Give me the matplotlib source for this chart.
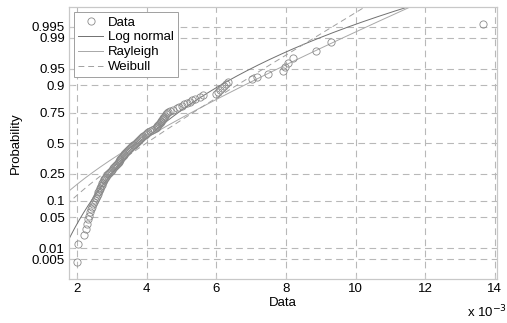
import numpy as np
import matplotlib
matplotlib.use("Agg")
import matplotlib.pyplot as plt
from statistics import NormalDist

plt.rcParams['font.family'] = ['Liberation Sans', 'DejaVu Sans']

# sorted sample, in units of 1e-3
data = [
    2.00, 2.04, 2.20, 2.26, 2.30, 2.32, 2.35, 2.37, 2.41, 2.44,
    2.47, 2.50, 2.52, 2.55, 2.57, 2.59, 2.61, 2.63, 2.65, 2.67,
    2.69, 2.71, 2.73, 2.75, 2.77, 2.79, 2.81, 2.83, 2.85, 2.88,
    2.91, 2.94, 2.97, 3.00, 3.03, 3.06, 3.09, 3.12, 3.15, 3.18,
    3.20, 3.22, 3.23, 3.25, 3.27, 3.29, 3.31, 3.34, 3.36, 3.39,
    3.42, 3.44, 3.47, 3.50, 3.52, 3.55, 3.58, 3.60, 3.63, 3.66,
    3.69, 3.72, 3.75, 3.78, 3.81, 3.84, 3.88, 3.91, 3.94, 3.97,
    4.00, 4.05, 4.11, 4.16, 4.22, 4.26, 4.29, 4.31, 4.33, 4.36,
    4.38, 4.40, 4.42, 4.44, 4.46, 4.48, 4.50, 4.52, 4.55, 4.58,
    4.62, 4.67, 4.76, 4.87, 4.94, 5.01, 5.08, 5.16, 5.24, 5.30,
    5.40, 5.53, 5.62, 5.98, 6.05, 6.10, 6.16, 6.22, 6.28, 6.34,
    7.02, 7.17, 7.48, 7.91, 7.97, 8.06, 8.20, 8.86, 9.29, 13.66,
]
prob_ticks = [0.005, 0.01, 0.05, 0.1, 0.25, 0.5, 0.75, 0.9, 0.95, 0.99, 0.995]
prob_labels = ['0.005', '0.01', '0.05', '0.1', '0.25', '0.5', '0.75', '0.9', '0.95', '0.99', '0.995']
x_ticks = [2, 4, 6, 8, 10, 12, 14]

nd = NormalDist()
ppf = np.vectorize(lambda p: nd.inv_cdf(min(max(p, 1e-12), 1 - 1e-12)))

x = np.sort(np.array(data))
n = len(x)
zpos = ppf((np.arange(1, n + 1) - 0.5) / n)

# --- fits (maximum likelihood) ---
lx = np.log(x)
mu = lx.mean()
sig = lx.std(ddof=1)

ray_s = np.sqrt(np.sum(x ** 2) / (2 * n))

# Weibull shape by Newton iteration
k = 1.2 / lx.std()
for _ in range(100):
    xk = x ** k
    s0 = xk.sum()
    s1 = (xk * lx).sum()
    s2 = (xk * lx ** 2).sum()
    f = 1.0 / k + lx.mean() - s1 / s0
    df = -1.0 / k ** 2 - (s2 / s0 - (s1 / s0) ** 2)
    step = f / df
    k -= step
    if abs(step) < 1e-10:
        break
lam = (np.mean(x ** k)) ** (1.0 / k)

xx = np.linspace(1.5, 14.5, 600)
z_logn = (np.log(xx) - mu) / sig
z_ray = ppf(1 - np.exp(-xx ** 2 / (2 * ray_s ** 2)))
z_wbl = ppf(1 - np.exp(-(xx / lam) ** k))

FS = 9.5
fig = plt.figure(figsize=(5.07, 3.23), dpi=100)
ax = fig.add_axes([0.136, 0.136, 0.844, 0.842])

ax.plot(xx, z_logn, color='#707070', lw=0.7, label='Log normal')
ax.plot(xx, z_ray, color='#a8a8a8', lw=0.7, label='Rayleigh')
ax.plot(xx, z_wbl, color='#a0a0a0', lw=0.7, ls=(0, (6, 4)), label='Weibull')
ax.plot(x, zpos, ls='none', marker='o', ms=5.2, mfc='none', mec='#8a8a8a', mew=0.6,
        label='Data', zorder=3)

ax.set_xlim(1.77, 14.06)
ax.set_ylim(-3.01, 3.01)
ax.set_xticks(x_ticks)
ax.set_xticklabels([str(t) for t in x_ticks])
ax.set_yticks(ppf(np.array(prob_ticks)))
ax.set_yticklabels(prob_labels)

ax.grid(True, color='#b8b8b8', ls=(0, (6, 4)), lw=0.8)
ax.set_axisbelow(True)
for sp in ax.spines.values():
    sp.set_color('#c8c8c8')
    sp.set_linewidth(0.9)
ax.tick_params(direction='in', length=3, color='#c8c8c8', labelsize=FS, pad=3)

ax.set_xlabel('Data', fontsize=FS, labelpad=1)
ax.set_ylabel('Probability', fontsize=FS, labelpad=7)
fig.text(0.922, 0.018, r'x 10$^{-3}$', fontsize=FS)

h, l = ax.get_legend_handles_labels()
order = [3, 0, 1, 2]
leg = ax.legend([h[i] for i in order], [l[i] for i in order], loc='upper left',
                fontsize=FS, fancybox=False, framealpha=1, edgecolor='#a0a0a0',
                borderaxespad=0.4, handlelength=1.9, handletextpad=0.35,
                labelspacing=0.2, borderpad=0.3)
leg.get_frame().set_linewidth(0.7)

fig.savefig('out.png', dpi=100)
